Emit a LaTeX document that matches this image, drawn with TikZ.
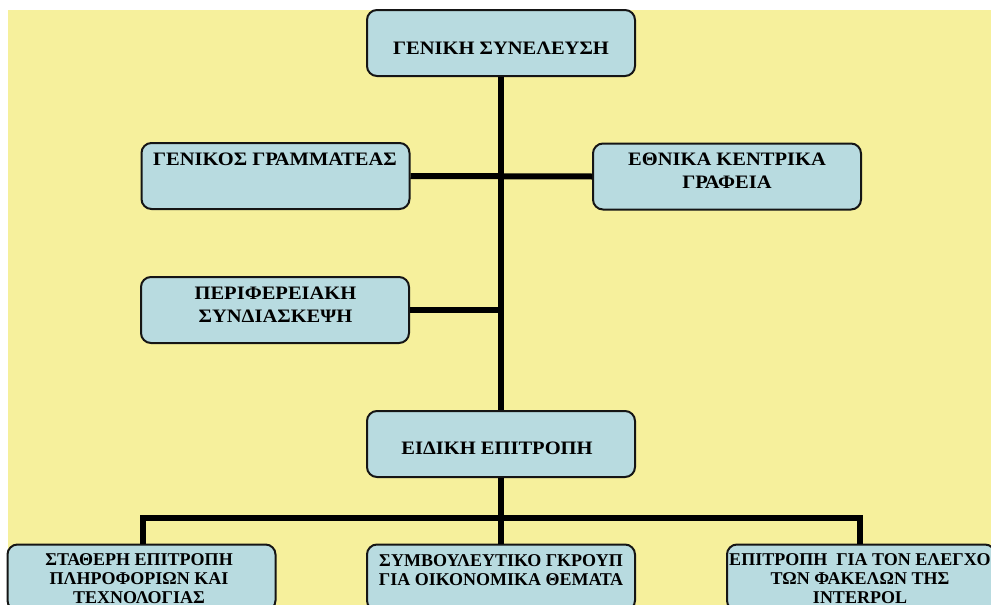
\documentclass[tikz,border=0pt]{standalone}
\usepackage{fontspec}
\setmainfont{Liberation Serif}
\newfontfamily\widefont[FakeStretch=1.08]{Liberation Serif}
\definecolor{bgyellow}{HTML}{F6F09C}
\definecolor{boxblue}{HTML}{B8DBE0}
\definecolor{boxline}{HTML}{151515}
\tikzset{
  orgbox/.style={draw=boxline, line width=2pt, fill=boxblue, rounded corners=10pt,
    minimum width=268pt, minimum height=66pt, inner sep=0pt},
  boxtext/.style={anchor=north, align=center, inner sep=0pt, text=black,
    font=\widefont\fontsize{19}{23.5}\selectfont\bfseries},
  lowtext/.style={anchor=north, align=center, inner sep=0pt, text=black,
    font=\fontsize{18}{19}\selectfont\bfseries},
  link/.style={line width=6pt, draw=black}
}
\begin{document}
\begin{tikzpicture}[x=1pt,y=-1pt]
\useasboundingbox (0,0) rectangle (991,605);
\clip (0,0) rectangle (991,605);
\fill[bgyellow] (8,10) rectangle (991,605);
% boxes
\node[orgbox] (gs) at (501,43) {};
\node[orgbox] (gg) at (275.5,176) {};
\node[orgbox] (ek) at (727,176.5) {};
\node[orgbox] (ps) at (275,310) {};
\node[orgbox] (ee) at (501,444) {};
\node[orgbox] (se) at (141.5,577.5) {};
\node[orgbox] (sg) at (501,577.5) {};
\node[orgbox] (ep) at (861,577.5) {};
% junction coordinates
\coordinate (jbar) at (501,518);
\coordinate (jl) at (143,518);
\coordinate (jr) at (860,518);
% connectors
\draw[link] (gs.south) -- (ee.north);
\draw[link] (gg.east) -- (ek.west);
\draw[link] (ps.east) -- (ps.east -| gs.south);
\draw[link] (ee.south) -- (sg.north);
\draw[link] ([xshift=-3pt]jl) -- ([xshift=3pt]jr);
\draw[link] (jl) -- (jl |- se.north);
\draw[link] (jr) -- (jr |- ep.north);
% texts
\node[boxtext] (tgs) at (501,42) {ΓΕΝΙΚΗ ΣΥΝΕΛΕΥΣΗ};
\node[boxtext] (tgg) at (275,153) {ΓΕΝΙΚΟΣ ΓΡΑΜΜΑΤΕΑΣ};
\node[boxtext] (tek) at (727,152.7) {ΕΘΝΙΚΑ ΚΕΝΤΡΙΚΑ\\ΓΡΑΦΕΙΑ};
\node[boxtext] (tps) at (275.5,286.7) {ΠΕΡΙΦΕΡΕΙΑΚΗ\\ΣΥΝΔΙΑΣΚΕΨΗ};
\node[boxtext] (tee) at (497,441.7) {ΕΙΔΙΚΗ ΕΠΙΤΡΟΠΗ};
\node[lowtext] (tse) at (139,553) {ΣΤΑΘΕΡΗ ΕΠΙΤΡΟΠΗ\\ΠΛΗΡΟΦΟΡΙΩΝ ΚΑΙ\\ΤΕΧΝΟΛΟΓΙΑΣ};
\node[lowtext] (tsg) at (501,554) {ΣΥΜΒΟΥΛΕΥΤΙΚΟ ΓΚΡΟΥΠ\\ΓΙΑ ΟΙΚΟΝΟΜΙΚΑ ΘΕΜΑΤΑ};
\node[lowtext] (tep) at (860,553) {ΕΠΙΤΡΟΠΗ\ \ ΓΙΑ ΤΟΝ ΕΛΕΓΧΟ\\ΤΩΝ ΦΑΚΕΛΩΝ ΤΗΣ\\INTERPOL};
\end{tikzpicture}
\end{document}
